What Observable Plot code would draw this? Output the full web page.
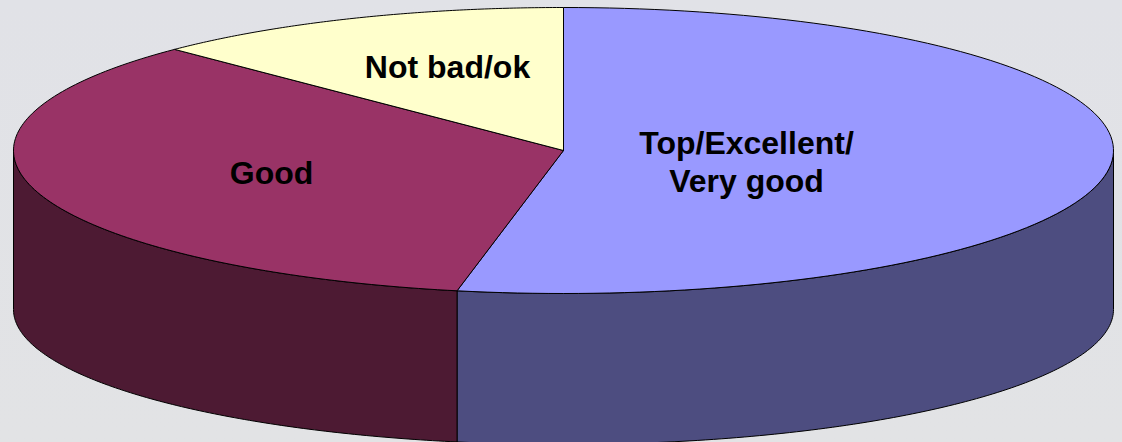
<!DOCTYPE html>
<html><head><meta charset="utf-8">
<script src="https://cdn.jsdelivr.net/npm/d3@7"></script>
<script src="https://cdn.jsdelivr.net/npm/@observablehq/plot@0.6"></script>
<style>html,body{margin:0;padding:0;background:#e1e2e6;overflow:hidden}svg{display:block}</style>
</head><body><div id="chart"></div>
<script>
const categories = ["Top/Excellent/\nVery good", "Good", "Not bad/ok"];
const shares = [53.1, 34.4, 12.5];
const topColors = ["#9999ff", "#993366", "#ffffcc"];
const sideColors = ["#4d4d80", "#4d1a33", "#808066"];
const wallDrop = 159;     // bottom rim centre below top rim centre
const wallRadius = 135;   // vertical radius of bottom rim
const labelX = [183, -292, -116];
const labelY = [-10, -21, 85];

const total = d3.sum(shares);
const rim = a => [550 * Math.sin(a), 143 * Math.cos(a)];
const rimLow = a => [550 * Math.sin(a), wallRadius * Math.cos(a) - wallDrop];
let acc = 0;
const slices = shares.map((v, i) => {
  const a0 = acc / total * 2 * Math.PI; acc += v;
  return {i, a0, a1: acc / total * 2 * Math.PI};
});
const angles = (a0, a1) => d3.range(0, 121).map(k => a0 + (a1 - a0) * k / 120);
const poly = [], side = [];
for (const s of slices) {
  const as = angles(s.a0, s.a1);
  [[0, 0], ...as.map(rim), [0, 0]].forEach(p => poly.push({x: p[0], y: p[1], s: s.i}));
  // the visible wall: the part of the rim on the near half of the ellipse
  const lo = Math.max(s.a0, Math.PI / 2), hi = Math.min(s.a1, 3 * Math.PI / 2);
  if (hi > lo) {
    const r = angles(lo, hi);
    [...r.map(rim), ...r.slice().reverse().map(rimLow), rim(lo)]
      .forEach(p => side.push({x: p[0], y: p[1], s: s.i}));
  }
}
const labels = categories.map((c, i) => ({c, x: labelX[i], y: labelY[i]}));

const chart = Plot.plot({
  width: 1122, height: 442,
  margin: 0,
  style: {background: "linear-gradient(#e1e2e7,#e2e3e5)"},
  x: {domain: [-563, 559], range: [0, 1122], axis: null},
  y: {domain: [150, -292], range: [0, 442], axis: null},
  marks: [
    Plot.line(side, {x: "x", y: "y", z: "s", fill: d => sideColors[d.s], stroke: "#000", strokeWidth: 1, curve: "linear"}),
    Plot.line(poly, {x: "x", y: "y", z: "s", fill: d => topColors[d.s], stroke: "#000", strokeWidth: 1, curve: "linear"}),
    Plot.text(labels, {x: "x", y: "y", text: "c", fontFamily: "Liberation Sans", fontWeight: "bold", fontSize: 32, lineHeight: 1.2, fill: "#000"})
  ]
});
document.getElementById("chart").append(chart);
</script></body></html>
